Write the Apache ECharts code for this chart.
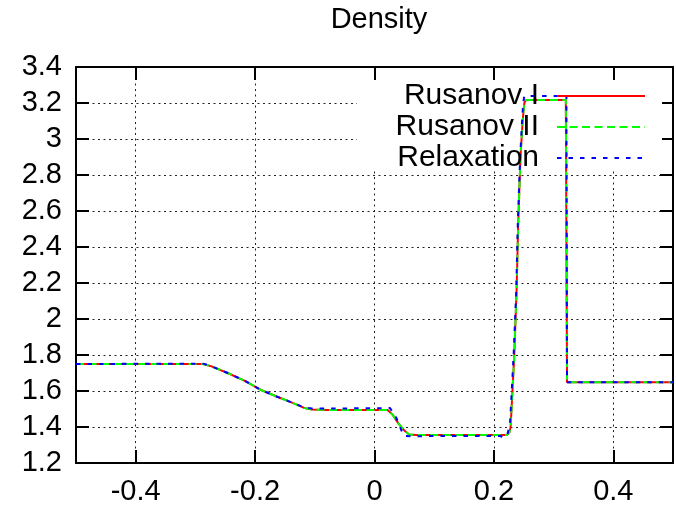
<!DOCTYPE html>
<html>
<head>
<meta charset="utf-8">
<script src="https://cdn.jsdelivr.net/npm/echarts@6/dist/echarts.min.js"></script>
<style>
html,body{margin:0;padding:0;background:#fff;}
#chart{width:676px;height:510px;}
</style>
</head>
<body>
<div id="chart"></div>
<script>
const titleText = 'Density';
const seriesNames = ['Rusanov I', 'Rusanov II', 'Relaxation'];
const xTickValues = [-0.4, -0.2, 0, 0.2, 0.4];

const rusanov1X = [-0.5, -0.287, -0.273, -0.246, -0.218, -0.191, -0.163, -0.136, -0.117, -0.105, -0.08, 0.0, 0.022, 0.03, 0.040, 0.05, 0.058, 0.07, 0.15, 0.222, 0.226, 0.228, 0.234, 0.238, 0.2407, 0.2445, 0.248, 0.2495, 0.251, 0.253, 0.26, 0.3205, 0.3225, 0.5];
const rusanov1Y = [1.75, 1.75, 1.737, 1.700, 1.658, 1.607, 1.568, 1.533, 1.505, 1.497, 1.495, 1.495, 1.494, 1.47, 1.42, 1.38, 1.358, 1.356, 1.356, 1.356, 1.37, 1.40, 1.79, 2.16, 2.53, 2.90, 3.09, 3.15, 3.20, 3.215, 3.217, 3.217, 1.648, 1.648];

const rusanov2X = [-0.5, -0.287, -0.273, -0.246, -0.218, -0.191, -0.163, -0.136, -0.117, -0.105, -0.08, 0.0, 0.022, 0.03, 0.040, 0.05, 0.058, 0.07, 0.15, 0.222, 0.226, 0.228, 0.234, 0.238, 0.2407, 0.2445, 0.248, 0.2495, 0.251, 0.253, 0.26, 0.3205, 0.3225, 0.5];
const rusanov2Y = [1.75, 1.75, 1.737, 1.700, 1.658, 1.607, 1.568, 1.533, 1.505, 1.497, 1.495, 1.495, 1.494, 1.47, 1.42, 1.38, 1.358, 1.356, 1.356, 1.356, 1.37, 1.40, 1.79, 2.16, 2.53, 2.90, 3.09, 3.15, 3.20, 3.215, 3.217, 3.217, 1.648, 1.648];

const relaxX = [-0.5, -0.287, -0.273, -0.246, -0.218, -0.191, -0.163, -0.136, -0.117, -0.105, -0.08, 0.0, 0.026, 0.037, 0.046, 0.050, 0.06, 0.15, 0.21, 0.216, 0.222, 0.227, 0.233, 0.2375, 0.240, 0.244, 0.247, 0.249, 0.251, 0.26, 0.3215, 0.3225, 0.5];
const relaxY = [1.75, 1.752, 1.737, 1.700, 1.658, 1.607, 1.568, 1.533, 1.507, 1.503, 1.503, 1.504, 1.505, 1.448, 1.374, 1.350, 1.349, 1.35, 1.35, 1.343, 1.35, 1.42, 1.80, 2.16, 2.53, 2.90, 3.09, 3.20, 3.239, 3.239, 3.239, 1.648, 1.648];

function pairs(xs, ys) { return xs.map((x, i) => [x, ys[i]]); }

const FONT = '"Liberation Sans", Arial, Helvetica, sans-serif';
const chart = echarts.init(document.getElementById('chart'), null, {renderer: 'canvas'});

const mkX = (pos, showLabel) => ({
  type: 'value', position: pos, min: -0.5, max: 0.5, z: 0,
  axisLine: {show: true, onZero: false, lineStyle: {color: '#000', width: 2}},
  axisTick: {show: true, inside: true, length: 13, lineStyle: {color: '#000', width: 2}},
  axisLabel: {show: showLabel, color: '#000', fontSize: 29, fontFamily: FONT, margin: 14,
    formatter: v => (Math.abs(Math.abs(v) - 0.5) < 1e-9 ? '' : String(+v.toFixed(2)))},
  splitLine: {show: showLabel, lineStyle: {color: '#222', width: 1, type: [2, 3.5]}}
});
const mkY = (pos, showLabel) => ({
  type: 'value', position: pos, min: 1.2, max: 3.4, interval: 0.2, z: 0,
  axisLine: {show: true, onZero: false, lineStyle: {color: '#000', width: 2}},
  axisTick: {show: true, inside: true, length: 13, lineStyle: {color: '#000', width: 2}},
  axisLabel: {show: showLabel, color: '#000', fontSize: 29, fontFamily: FONT, margin: 14,
    padding: [4, 0, 0, 0],
    formatter: v => String(+v.toFixed(2))},
  splitLine: {show: showLabel, lineStyle: {color: '#222', width: 1, type: [2, 3.5]}}
});

const mkSeries = (name, data, color, type) => ({
  name: name, type: 'line', data: data, xAxisIndex: 0, yAxisIndex: 0,
  symbol: 'none', showSymbol: false, z: 3,
  itemStyle: {color: color},
  lineStyle: {color: color, width: 2, type: type},
  emphasis: {disabled: true}
});

chart.setOption({
  animation: false,
  backgroundColor: '#fff',
  title: {text: titleText, left: 379, top: 5, padding: 0, textAlign: 'center',
    textStyle: {fontSize: 29, fontWeight: 'normal', color: '#000', fontFamily: FONT}},
  grid: {left: 76, right: -6, top: 67, bottom: 47, containLabel: false},
  xAxis: [mkX('bottom', true), mkX('top', false)],
  yAxis: [mkY('left', true), mkY('right', false)],
  legend: {
    data: seriesNames, orient: 'vertical', align: 'right', right: 30, top: 81, padding: 0,
    itemWidth: 88, itemHeight: 14, itemGap: 1, selectedMode: false, z: 5,
    itemStyle: {opacity: 0, borderWidth: 0},
    textStyle: {fontSize: 30, lineHeight: 28, color: '#000', fontFamily: FONT, padding: [0, 13, 0, 0]}
  },
  graphic: [{type: 'rect', z: 1, silent: true, shape: {x: 357, y: 81, width: 305, height: 90}, style: {fill: '#fff'}}],
  series: [
    mkSeries(seriesNames[0], pairs(rusanov1X, rusanov1Y), '#ff0000', 'solid'),
    mkSeries(seriesNames[1], pairs(rusanov2X, rusanov2Y), '#00ff00', [8, 4.5]),
    mkSeries(seriesNames[2], pairs(relaxX, relaxY), '#0000ff', [4.5, 7])
  ]
});
</script>
</body>
</html>
